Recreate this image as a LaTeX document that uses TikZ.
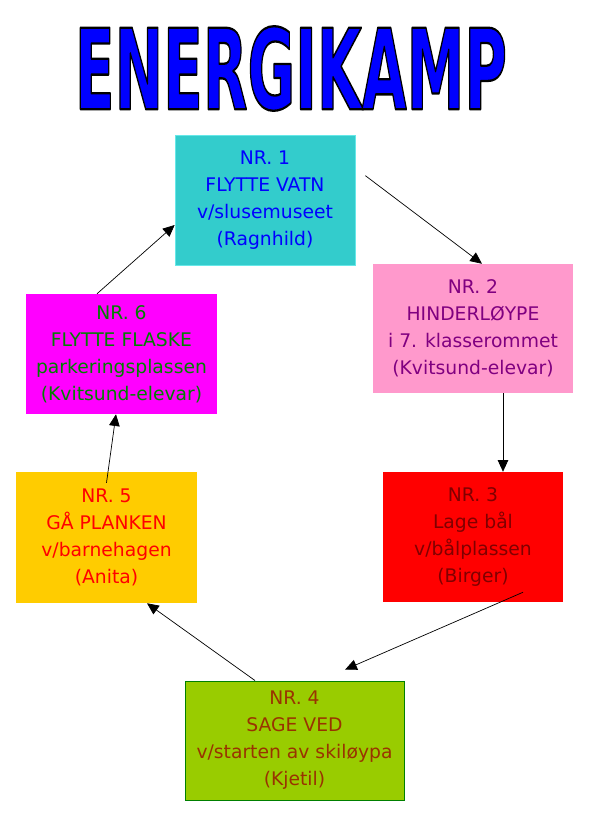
\documentclass[tikz,border=0pt]{standalone}
\usepackage{fontspec}
\setmainfont{DejaVu Sans}
\usetikzlibrary{arrows.meta}

\definecolor{cyanbox}{HTML}{33CCCC}
\definecolor{cyanline}{HTML}{66E8E8}
\definecolor{pinkbox}{HTML}{FF99CC}
\definecolor{magentabox}{HTML}{FF00FF}
\definecolor{yellowbox}{HTML}{FFCC00}
\definecolor{redbox}{HTML}{FF0000}
\definecolor{greenbox}{HTML}{99CC00}
\definecolor{greenline}{HTML}{008000}
\definecolor{purpletext}{HTML}{800080}
\definecolor{greentext}{HTML}{008000}
\definecolor{darkredtext}{HTML}{800000}
\definecolor{browntext}{HTML}{993300}

\newcommand{\outlined}[1]{\special{pdf:literal direct 0 0 0 RG 2 Tr 2 w 1 j}#1\special{pdf:literal direct 0 Tr 0.4 w 0 j}}

\begin{document}
\begin{tikzpicture}[>={Triangle[length=10pt,width=9pt]},
        post/.style={rectangle, inner sep=2pt, align=center, font=\fontsize{16}{23}\selectfont},
        link/.style={line width=0.6pt}]
        \useasboundingbox (0, 0) rectangle (17.79, -24.87);

        \draw (8.73, -2.055) node[inner sep=0, text=blue] (title) {\resizebox{12.96cm}{2.49cm}{\fontsize{97}{97}\selectfont\bfseries\outlined{ENERGIKAMP}}};

        \draw (7.95, -6.0) node[post, fill=cyanbox, draw=cyanline, line width=0.6pt, text=blue, minimum width=5.4cm, minimum height=3.9cm] (n1) {NR. 1\\FLYTTE VATN\\v/slusemuseet\\(Ragnhild)};
        \draw (14.19, -9.855) node[post, fill=pinkbox, text=purpletext, minimum width=6.0cm, minimum height=3.87cm] (n2) {NR. 2\\HINDERLØYPE\\i 7. klasserommet\\(Kvitsund-elevar)};
        \draw (14.19, -16.11) node[post, fill=redbox, text=darkredtext, minimum width=5.4cm, minimum height=3.9cm] (n3) {NR. 3\\Lage bål\\v/bålplassen\\(Birger)};
        \draw (8.835, -22.215) node[post, fill=greenbox, draw=greenline, line width=0.8pt, text=browntext, minimum width=6.57cm, minimum height=3.57cm] (n4) {NR. 4\\SAGE VED\\v/starten av skiløypa\\(Kjetil)};
        \draw (3.195, -16.125) node[post, fill=yellowbox, text=red, minimum width=5.43cm, minimum height=3.93cm] (n5) {NR. 5\\GÅ PLANKEN\\v/barnehagen\\(Anita)};
        \draw (3.645, -10.62) node[post, fill=magentabox, text=greentext, minimum width=5.73cm, minimum height=3.6cm] (n6) {NR. 6\\FLYTTE FLASKE\\parkeringsplassen\\(Kvitsund-elevar)};

        \coordinate (s1) at ([xshift=0.3cm, yshift=-1.23cm]n1.north east);
        \coordinate (s3) at ([xshift=1.5cm, yshift=0.3cm]n3.south);
        \coordinate (e3) at ([xshift=1.52cm, yshift=0.33cm]n4.north);
        \coordinate (s5) at ([yshift=-0.33cm]n5.north);

        \draw[link, ->] (s1) -- ([xshift=0.27cm]n2.north);
        \draw[link, ->] ([xshift=0.9cm]n2.south) -- ([xshift=0.9cm]n3.north);
        \draw[link, ->] (s3) -- (e3);
        \draw[link, ->] ([xshift=-1.185cm]n4.north) -- ([xshift=1.215cm]n5.south);
        \draw[link, ->] (s5) -- ([xshift=-0.165cm]n6.south);
        \draw[link, ->] ([xshift=-0.735cm]n6.north) -- ([yshift=-0.75cm]n1.west);
    \end{tikzpicture}
\end{document}
